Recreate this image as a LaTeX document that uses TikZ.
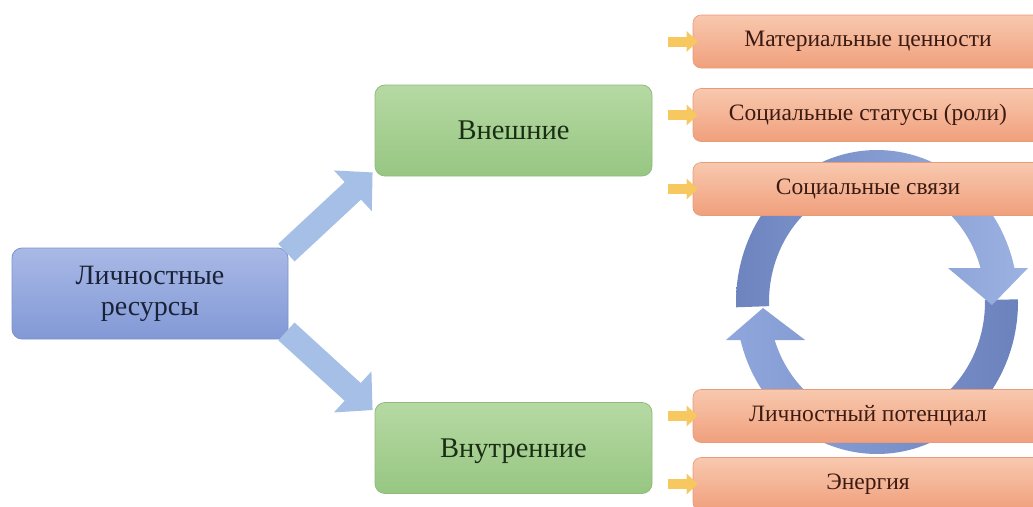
\documentclass[tikz,border=0pt]{standalone}
\usepackage{fontspec}
\setmainfont{Liberation Serif}
\usetikzlibrary{arrows.meta,calc}
\definecolor{bluetop}{HTML}{A9B9E6}
\definecolor{bluebot}{HTML}{8299D6}
\definecolor{blueedge}{HTML}{7D92C9}
\definecolor{bluetext}{HTML}{1A2238}
\definecolor{greentop}{HTML}{B6D9A3}
\definecolor{greenbot}{HTML}{97C682}
\definecolor{greenedge}{HTML}{8FBB7C}
\definecolor{greentext}{HTML}{1A2E14}
\definecolor{orangetop}{HTML}{F8C8AE}
\definecolor{orangebot}{HTML}{F0A07C}
\definecolor{orangeedge}{HTML}{E99A78}
\definecolor{orangetext}{HTML}{3B1A12}
\definecolor{yellowarrow}{HTML}{F7C85F}
\definecolor{bluearrow}{HTML}{A6BFE6}
\definecolor{ringlightA}{HTML}{8FA7DC}
\definecolor{ringdarkA}{HTML}{6C82BD}
\definecolor{ringlightB}{HTML}{9CB2E2}
\definecolor{ringdarkB}{HTML}{6D84BF}
\tikzset{
  srcbox/.style={rounded corners=10pt, minimum width=276pt, minimum height=91pt,
    top color=bluetop, bottom color=bluebot, draw=blueedge, line width=0.8pt,
    align=center, font=\fontsize{28}{31}\selectfont, text=bluetext},
  catbox/.style={rounded corners=10pt, minimum width=277pt, minimum height=91pt,
    top color=greentop, bottom color=greenbot, draw=greenedge, line width=0.8pt,
    font=\fontsize{28.5}{31}\selectfont, text=greentext, text depth=0pt},
  itembox/.style={rounded corners=8pt, minimum width=350pt, minimum height=53pt,
    top color=orangetop, bottom color=orangebot, draw=orangeedge, line width=0.6pt,
    font=\fontsize{23.5}{26}\selectfont, text=orangetext},
  blockarrow/.style={line width=24pt, draw=bluearrow,
    -{Triangle[length=27pt,width=54pt]}},
  smallarrow/.style={line width=10pt, draw=yellowarrow,
    -{Triangle[length=11pt,width=20pt]}}
}
\begin{document}
\begin{tikzpicture}[x=1pt,y=-1pt]
\useasboundingbox (0,0) rectangle (1033,506);
\clip (0,0) rectangle (1033,506);

% circular arrows
\shade[left color=ringlightA, right color=ringdarkA]
  plot[domain=-1:165.5, samples=80] ({877+141*cos(\x)},{302+152*sin(\x)})
  -- (726,340) -- (763,308) -- (805,340) -- (774.6,340)
  -- plot[domain=161.4:-1, samples=80] ({877+108*cos(\x)},{302+119*sin(\x)})
  -- cycle;
\shade[left color=ringdarkB, right color=ringlightB]
  plot[domain=178:347.1, samples=80] ({877+141*cos(\x)},{302+152*sin(\x)})
  -- (1028,268) -- (992,305) -- (948,268) -- (980.5,268)
  -- plot[domain=343.4:178, samples=80] ({877+108*cos(\x)},{302+119*sin(\x)})
  -- cycle;

% boxes
\node[srcbox] (src) at (150,293.5) {Личностные\\ресурсы};
\node[catbox] (ext) at (513.5,130.5) {Внешние};
\node[catbox] (int) at (513.5,448) {Внутренние};

\node[itembox] (o1) at (868,41.5) {Материальные ценности};
\node[itembox] (o2) at (868,115) {Социальные статусы (роли)};
\node[itembox] (o3) at (868,189) {Социальные связи};
\node[itembox] (o4) at (868,416) {Личностный потенциал};
\node[itembox] (o5) at (868,484) {Энергия};

% blue block arrows
\coordinate (b1s) at ($(src.north east)+(-2,5)$);
\coordinate (b1e) at ($(ext.south west)+(-2,-4)$);
\coordinate (b2s) at ($(src.south east)+(-2,-8)$);
\coordinate (b2e) at ($(int.north west)+(-2,8)$);
\draw[blockarrow] (b1s) -- (b1e);
\draw[blockarrow] (b2s) -- (b2e);

% yellow arrows
\foreach \n in {o1,o2,o3,o4,o5}{
  \coordinate (s\n) at ($(\n.west)+(-25,0)$);
  \draw[smallarrow] (s\n) -- ($(\n.west)+(5,0)$);
}
\end{tikzpicture}
\end{document}
